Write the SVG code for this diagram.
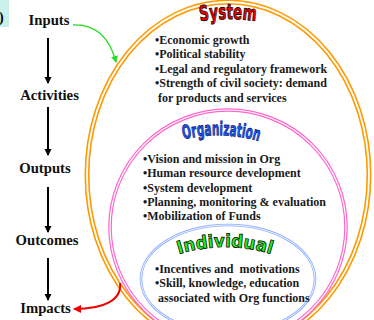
<svg xmlns="http://www.w3.org/2000/svg" width="374" height="320" viewBox="0 0 374 320">
<style>
.lbl{font-family:"Liberation Serif","Times New Roman",serif;font-weight:bold;font-size:14.7px;fill:#111;text-anchor:middle}
.bul{font-family:"Liberation Serif","Times New Roman",serif;font-weight:bold;font-size:12px;fill:#1a1a1a;white-space:pre}
.wa{font-family:"DejaVu Sans Condensed","DejaVu Sans",sans-serif;font-weight:bold;stroke-linejoin:round}
.flow{stroke:#000;stroke-width:2;fill:none;marker-end:url(#ah)}
</style>
<defs>
<marker id="ah" markerWidth="8" markerHeight="8" refX="6" refY="4" orient="auto" markerUnits="userSpaceOnUse">
<path d="M0,0.5 L7,4 L0,7.5 Z" fill="#000"/>
</marker>
<marker id="ahg" markerWidth="8" markerHeight="8" refX="6" refY="4" orient="auto" markerUnits="userSpaceOnUse">
<path d="M0,0.5 L7,4 L0,7.5 Z" fill="#22dd22"/>
</marker>
<marker id="ahr" markerWidth="9" markerHeight="9" refX="7" refY="4.5" orient="auto" markerUnits="userSpaceOnUse">
<path d="M0,0.5 L8,4.5 L0,8.5 Z" fill="#ee0000"/>
</marker>
<path id="arcSys" d="M170,28 Q228,10 286,28"/>
<path id="arcOrg" d="M160,147 Q221,122 282,150"/>
<path id="arcInd" d="M150,266 Q225,228 300,266"/>
</defs>

<rect x="0" y="0" width="9" height="27" fill="#c9f1ea"/>
<text x="-1" y="22" font-family="Liberation Serif,serif" font-weight="bold" font-size="14">)</text>

<g id="system">
<ellipse cx="228" cy="175" rx="141" ry="173" fill="none" stroke="#ff9900" stroke-width="5"/>
<ellipse cx="228" cy="175" rx="141" ry="173" fill="none" stroke="#fff" stroke-width="1.8"/>
<text class="wa" font-size="21" fill="#ee0000" stroke="#000" stroke-width="0.8"><textPath href="#arcSys" startOffset="50%" text-anchor="middle" textLength="56" lengthAdjust="spacingAndGlyphs">System</textPath></text>
<text class="bul" x="155" y="44">•Economic growth</text>
<text class="bul" x="155" y="58">•Political stability</text>
<text class="bul" x="155" y="73">•Legal and regulatory framework</text>
<text class="bul" x="155" y="87">•Strength of civil society: demand</text>
<text class="bul" x="158" y="102">for products and services</text>
</g>

<g id="organization">
<ellipse cx="228" cy="227" rx="118" ry="117" fill="none" stroke="#ff66cc" stroke-width="3.6"/>
<ellipse cx="228" cy="227" rx="118" ry="117" fill="none" stroke="#fff" stroke-width="1.2"/>
<text class="wa" font-size="19" fill="#2255ee" stroke="#001166" stroke-width="0.7"><textPath href="#arcOrg" startOffset="50%" text-anchor="middle" textLength="76" lengthAdjust="spacingAndGlyphs">Organization</textPath></text>
<text class="bul" x="143" y="163">•Vision and mission in Org</text>
<text class="bul" x="143" y="177">•Human resource development</text>
<text class="bul" x="143" y="192">•System development</text>
<text class="bul" x="143" y="206">•Planning, monitoring &amp; evaluation</text>
<text class="bul" x="143" y="220">•Mobilization of Funds</text>
</g>

<g id="individual">
<ellipse cx="228" cy="279" rx="87" ry="54" fill="none" stroke="#88aaff" stroke-width="2.6"/>
<ellipse cx="228" cy="279" rx="87" ry="54" fill="none" stroke="#fff" stroke-width="0.9"/>
<text class="wa" font-size="18" fill="#22ee22" stroke="#000" stroke-width="0.7"><textPath href="#arcInd" startOffset="50%" text-anchor="middle" textLength="94" lengthAdjust="spacingAndGlyphs">Individual</textPath></text>
<text class="bul" x="155" y="273">•Incentives and  motivations</text>
<text class="bul" x="155" y="287">•Skill, knowledge, education</text>
<text class="bul" x="158" y="302">associated with Org functions</text>
</g>

<g id="inputs"><text class="lbl" x="49" y="25">Inputs</text></g>
<g id="activities"><text class="lbl" x="49.5" y="100">Activities</text></g>
<g id="outputs"><text class="lbl" x="45" y="173">Outputs</text></g>
<g id="outcomes"><text class="lbl" x="47" y="245">Outcomes</text></g>
<g id="impacts"><text class="lbl" x="45.5" y="313">Impacts</text></g>

<g id="connectors">
<path class="flow" d="M48,38 V83"/>
<path class="flow" d="M48,107 V155"/>
<path class="flow" d="M48,187 V232"/>
<path class="flow" d="M48,258 V300"/>
<path d="M73,25 Q106,24 116,62" fill="none" stroke="#22dd22" stroke-width="1.3" marker-end="url(#ahg)"/>
<path d="M120,283 C122,300 104,309 74,309" fill="none" stroke="#ee0000" stroke-width="2" marker-end="url(#ahr)"/>
</g>
</svg>
